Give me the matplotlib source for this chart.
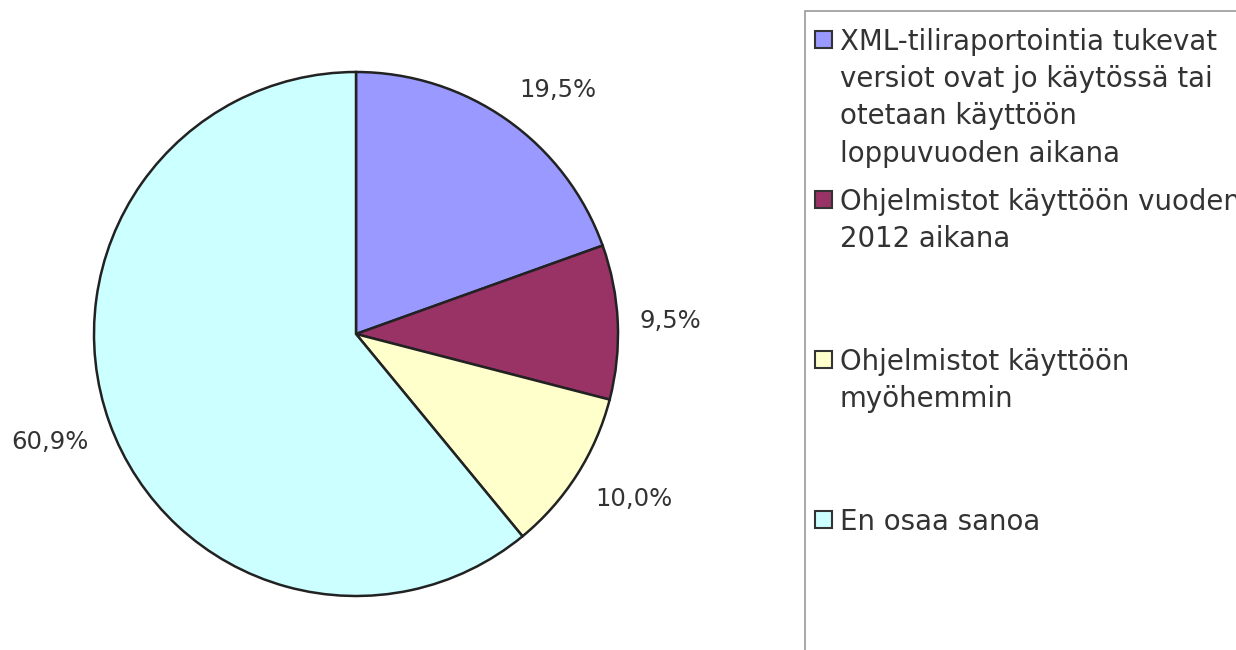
import numpy as np
import matplotlib.pyplot as plt
from matplotlib.patches import Rectangle

categories = [
    "XML-tiliraportointia tukevat\nversiot ovat jo käytössä tai\notetaan käyttöön\nloppuvuoden aikana",
    "Ohjelmistot käyttöön vuoden\n2012 aikana",
    "Ohjelmistot käyttöön\nmyöhemmin",
    "En osaa sanoa",
]
shares = [19.5, 9.5, 10.0, 60.9]
colors = ["#9999FF", "#993366", "#FFFFCC", "#CCFFFF"]

text_color = "#333333"
W, H = 1236, 650

fig = plt.figure(figsize=(W / 100, H / 100), dpi=100)

# pie: centre (356, 334) px, radius 262 px
cx, cy, r = 356, 334, 262
ax = fig.add_axes([(cx - r) / W, (H - cy - r) / H, 2 * r / W, 2 * r / H])

pct_labels = [f"{v:.1f}%".replace(".", ",") for v in shares]
wedges, texts = ax.pie(
    shares,
    labels=pct_labels,
    colors=colors,
    startangle=90,
    counterclock=False,
    labeldistance=1.085,
    wedgeprops=dict(edgecolor="#222222", linewidth=1.8),
    textprops=dict(fontsize=17.5, color=text_color),
)
# Excel-like label alignment: box corner sits at the anchor point
for w, t in zip(wedges, texts):
    mid = np.deg2rad((w.theta1 + w.theta2) / 2)
    s = np.sin(mid)
    if s > 0.3:
        t.set_va("bottom")
    elif s < -0.3:
        t.set_va("top")
    else:
        t.set_va("center")
ax.set_xlim(-1, 1)
ax.set_ylim(-1, 1)
ax.set_aspect("equal")

# legend box (runs past the right and bottom edges)
fig.patches.append(Rectangle((805 / W, -0.1), 0.5, (H - 11) / H + 0.1,
                             transform=fig.transFigure, facecolor="none",
                             edgecolor="#999999", linewidth=1.2))

for i, (lab, col) in enumerate(zip(categories, colors)):
    top = 28 + 160 * i
    fig.patches.append(Rectangle((815 / W, 1 - (top + 20) / H), 17 / W, 17 / H,
                                 transform=fig.transFigure, facecolor=col,
                                 edgecolor="#333333", linewidth=1.5))
    fig.text(840 / W, 1 - top / H, lab, fontsize=19.9, color=text_color,
             va="top", ha="left", linespacing=1.42)

fig.savefig("out.png", dpi=100)
